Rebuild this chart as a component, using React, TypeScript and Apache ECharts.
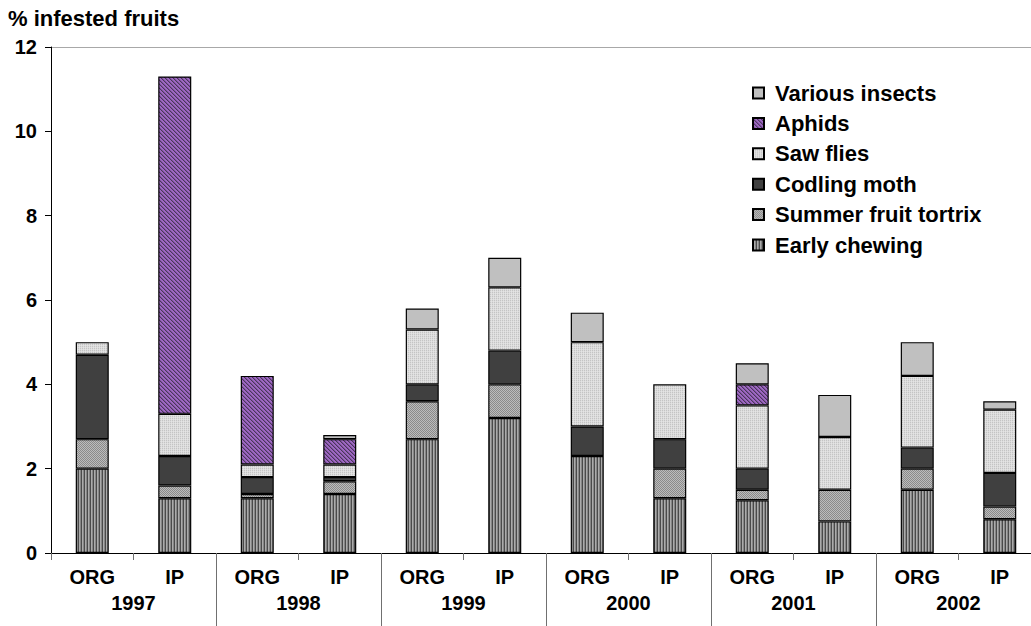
import React, { useEffect, useRef } from "react";
import * as echarts from "echarts";

const categories = ["ORG", "IP", "ORG", "IP", "ORG", "IP", "ORG", "IP", "ORG", "IP", "ORG", "IP"];
const years = ["1997", "1998", "1999", "2000", "2001", "2002"];
const yTickLabels = ["0", "2", "4", "6", "8", "10", "12"];

const earlyChewing = [2.0, 1.3, 1.3, 1.4, 2.7, 3.2, 2.3, 1.3, 1.25, 0.75, 1.5, 0.8];
const summerFruitTortrix = [0.7, 0.3, 0.1, 0.3, 0.9, 0.8, 0, 0.7, 0.25, 0.75, 0.5, 0.3];
const codlingMoth = [2.0, 0.7, 0.4, 0.1, 0.4, 0.8, 0.7, 0.7, 0.5, 0, 0.5, 0.8];
const sawFlies = [0.3, 1.0, 0.3, 0.3, 1.3, 1.5, 2.0, 1.3, 1.5, 1.25, 1.7, 1.5];
const aphids = [0, 8.0, 2.1, 0.6, 0, 0, 0, 0, 0.5, 0, 0, 0];
const variousInsects = [0, 0, 0, 0.1, 0.5, 0.7, 0.7, 0, 0.5, 1.0, 0.8, 0.2];

const FONT = '"Liberation Sans", Arial, Helvetica, sans-serif';

function makePattern(w: number, h: number, draw: (ctx: CanvasRenderingContext2D) => void) {
  const c = document.createElement("canvas");
  c.width = w;
  c.height = h;
  const ctx = c.getContext("2d") as CanvasRenderingContext2D;
  draw(ctx);
  return { image: c.toDataURL(), repeat: "repeat", imageWidth: w, imageHeight: h };
}

function px(ctx: CanvasRenderingContext2D, x: number, y: number, col: string) {
  ctx.fillStyle = col;
  ctx.fillRect(x, y, 1, 1);
}

export default function App() {
  const ref = useRef<HTMLDivElement>(null);

  useEffect(() => {
    if (!ref.current) return;
    const chart = echarts.init(ref.current, null, { renderer: "svg" });

    const patEarly = makePattern(3, 3, (ctx) => {
      ctx.fillStyle = "#868686";
      ctx.fillRect(0, 0, 3, 3);
      ctx.fillStyle = "#4a4a4a";
      ctx.fillRect(0, 0, 1, 3);
      ctx.fillStyle = "#ababab";
      ctx.fillRect(1, 0, 1, 3);
    });
    const patSummer = makePattern(2, 2, (ctx) => {
      px(ctx, 0, 0, "#8a8a8a");
      px(ctx, 1, 1, "#8a8a8a");
      px(ctx, 1, 0, "#bcbcbc");
      px(ctx, 0, 1, "#bcbcbc");
    });
    const patSaw = makePattern(2, 2, (ctx) => {
      px(ctx, 0, 0, "#c4c4c4");
      px(ctx, 1, 1, "#e4e4e4");
      px(ctx, 1, 0, "#dedede");
      px(ctx, 0, 1, "#dadada");
    });
    const patAphids = makePattern(4, 4, (ctx) => {
      ctx.fillStyle = "#9e68c2";
      ctx.fillRect(0, 0, 4, 4);
      for (let i = 0; i < 4; i++) {
        px(ctx, (i + 3) % 4, i, "#4a3858");
        px(ctx, i, i, "#7e50a0");
      }
    });

    const seriesDefs = [
      { name: "Early chewing", data: earlyChewing, color: patEarly },
      { name: "Summer fruit tortrix", data: summerFruitTortrix, color: patSummer },
      { name: "Codling moth", data: codlingMoth, color: "#404040" },
      { name: "Saw flies", data: sawFlies, color: patSaw },
      { name: "Aphids", data: aphids, color: patAphids },
      { name: "Various insects", data: variousInsects, color: "#c0c0c0" },
    ];

    const textBase = { fontFamily: FONT, fontWeight: "bold" as const, color: "#000" };

    const option: any = {
      animation: false,
      backgroundColor: "#fff",
      title: {
        text: "% infested fruits",
        left: 8,
        top: 7,
        padding: 0,
        textStyle: { ...textBase, fontSize: 22 },
      },
      legend: {
        orient: "vertical",
        left: 752,
        top: 82,
        padding: 0,
        itemWidth: 11,
        itemHeight: 11,
        itemGap: 8.4,
        icon: "rect",
        data: seriesDefs.map((s) => s.name).reverse(),
        textStyle: { ...textBase, fontSize: 22, padding: [0, 0, 0, 6] },
      },
      grid: {
        left: 51,
        top: 47,
        bottom: 73,
        width: 990,
        containLabel: false,
        outerBoundsMode: "none",
      },
      xAxis: [
        {
          type: "category",
          data: categories,
          position: "bottom",
          axisLine: { show: true, lineStyle: { color: "#000", width: 1 } },
          axisTick: { show: true, length: 7, lineStyle: { color: "#707070" } },
          axisLabel: { ...textBase, fontSize: 20, margin: 14, interval: 0 },
          z: 5,
        },
        {
          type: "category",
          data: years,
          position: "bottom",
          axisLine: { show: false },
          axisTick: {
            show: true,
            length: 80,
            interval: (i: number) => i > 0,
            lineStyle: { color: "#707070" },
          },
          axisLabel: { ...textBase, fontSize: 20, margin: 40, interval: 0 },
        },
      ],
      yAxis: {
        type: "value",
        min: 0,
        max: 12,
        interval: 2,
        axisLine: { show: true, lineStyle: { color: "#000" } },
        axisTick: { show: true, length: 6, lineStyle: { color: "#000" } },
        axisLabel: {
          ...textBase,
          fontSize: 20,
          margin: 14,
          formatter: (v: number) => yTickLabels[Math.round(v / 2)] ?? String(v),
        },
        splitLine: {
          show: true,
          lineStyle: {
            color: ["transparent", "transparent", "transparent", "transparent", "transparent", "transparent", "#a8a8a8"],
          },
        },
      },
      series: seriesDefs.map((s) => ({
        name: s.name,
        type: "bar",
        stack: "total",
        xAxisIndex: 0,
        barWidth: "40%",
        data: s.data.map((v) => (v === 0 ? "-" : v)),
        itemStyle: { color: s.color, borderColor: "#000", borderWidth: 1.2 },
        emphasis: { disabled: true },
      })),
    };

    chart.setOption(option);
    return () => chart.dispose();
  }, []);

  return (
    <div
      ref={ref}
      style={{ position: "fixed", left: 0, top: 0, width: 1031, height: 626, background: "#fff" }}
    />
  );
}
